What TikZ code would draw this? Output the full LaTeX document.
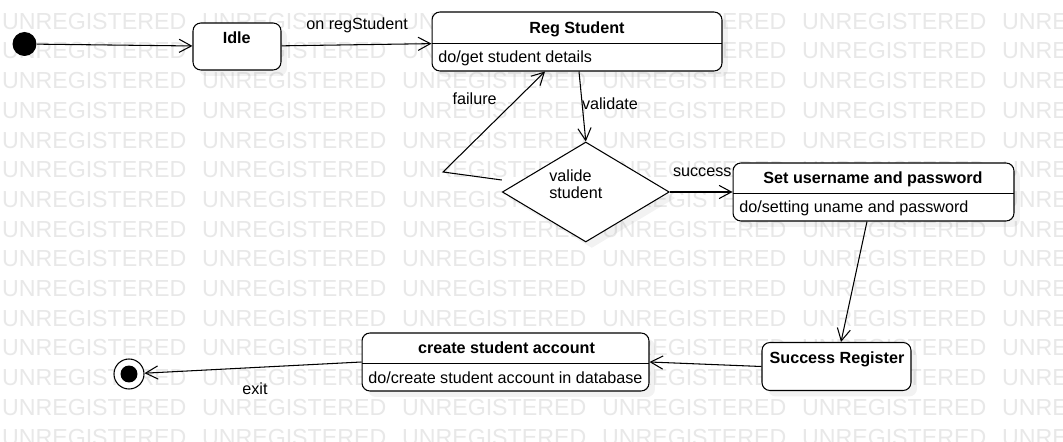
\documentclass[tikz,border=0pt]{standalone}
\usepackage{fontspec}
\setmainfont{Liberation Sans}
\usetikzlibrary{arrows.meta,shapes.geometric,shadows}
\tikzstyle{state}=[rectangle, rounded corners=4.5pt, draw, line width=0.6pt, fill=white, drop shadow={opacity=0.1, shadow xshift=0.12cm, shadow yshift=-0.12cm}]
\tikzstyle{choice}=[diamond, draw, line width=0.6pt, fill=white, inner sep=0pt, minimum width=3.34cm, minimum height=2cm, drop shadow={opacity=0.1, shadow xshift=0.12cm, shadow yshift=-0.12cm}]
\tikzstyle{dot}=[circle, fill=black, inner sep=0pt, minimum size=0.48cm]
\tikzstyle{endst}=[circle, draw, line width=0.6pt, fill=white, inner sep=0pt, minimum size=0.6cm, path picture={\fill[black] (path picture bounding box.center) circle (0.17cm);}]
\tikzstyle{title}=[inner sep=0pt, anchor=base, font=\fontsize{9.2}{9.5}\selectfont\bfseries]
\tikzstyle{act}=[inner sep=0pt, anchor=base west]
\tikzstyle{g}=[inner sep=0pt, anchor=base west]
\tikzstyle{trans}=[line width=0.6pt, -{Straight Barb[length=7pt,width=7.5pt,line width=0.6pt]}]
\tikzstyle{wmark}=[inner sep=0pt, anchor=base west, text=black!9, font=\fontsize{13.2}{13.2}\selectfont]

\begin{document}
\begin{tikzpicture}[x=0.02cm, y=-0.02cm, font=\fontsize{9.2}{9.5}\selectfont]
	\useasboundingbox (0,0) rectangle (1063,442);
	\fill[white] (0,0) rectangle (1063,442);
	
	%The watermark
	\foreach \r in {0,...,14}
		\foreach \c in {0,...,5}
			\node[wmark] (wm-\r-\c) at ({1.7+200*\c},{29.3+29.7*\r}) {UNREGISTERED};
	
	%The states
	\draw (24.5,44) node[dot] (start) {};
	\draw (237,46.5) node[state, minimum width=1.76cm, minimum height=0.94cm] (idle) {};
	\draw (577,41.5) node[state, minimum width=5.8cm, minimum height=1.18cm] (reg) {};
	\draw (585.8,192) node[choice] (valid) {};
	\draw (873.5,192) node[state, minimum width=5.62cm, minimum height=1.16cm] (setpw) {};
	\draw (836.5,366.5) node[state, minimum width=2.98cm, minimum height=0.96cm] (succ) {};
	\draw (505.5,362) node[state, minimum width=5.74cm, minimum height=1.16cm] (create) {};
	\draw (129,374) node[endst] (stop) {};
	
	%Compartments
	\draw[line width=0.6pt] (432,43.5) -- (722,43.5);
	\draw[line width=0.6pt] (733,193.3) -- (1014,193.3);
	\draw[line width=0.6pt] (362,363.3) -- (649,363.3);
	
	%Names and activities
	\draw (236.7,43.3) node[title] (idlet) {Idle};
	\draw (577,33.3) node[title] (regt) {Reg Student};
	\draw (438,62.7) node[act] (rega) {do/get student details};
	\draw (549,198.3) node[g, align=left] (validt) {valide\\student};
	\draw (873,183.3) node[title] (setpwt) {Set username and password};
	\draw (739,212.7) node[act] (setpwa) {do/setting uname and password};
	\draw (837,363.3) node[title] (succt) {Success Register};
	\draw (506.5,353.3) node[title] (createt) {create student account};
	\draw (368,383.3) node[act] (createa) {do/create student account in database};
	
	%The transitions
	\draw[trans] (start) -- (idle);
	\draw[trans] (idle) -- (reg);
	\draw[trans] ([xshift=0.04cm]reg.south) -- (valid.north);
	\coordinate (fbend) at (443,172);
	\draw[trans] ([yshift=0.24cm]valid.west) -- (fbend) -- ([xshift=-0.64cm]reg.south);
	\draw[trans] (valid.east) -- (setpw.west);
	\draw[trans] ([xshift=-0.13cm]setpw.south) -- ([xshift=0.09cm]succ.north);
	\draw[trans] (succ.west) -- (create.east);
	\draw[trans] (create.west) -- (stop);
	
	%Transition labels
	\draw (306,29.3) node[g] (lreg) {on regStudent};
	\draw (581.7,109.3) node[g] (lval) {validate};
	\draw (452.3,104.3) node[g] (lfail) {failure};
	\draw (672.7,176.7) node[g] (lsucc) {success};
	\draw (242,394.3) node[g] (lexit) {exit};
\end{tikzpicture}
\end{document}
